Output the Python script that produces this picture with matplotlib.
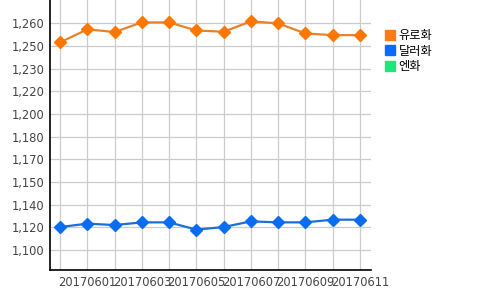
import numpy as np
import matplotlib
matplotlib.use("Agg")
import matplotlib.pyplot as plt
from matplotlib.lines import Line2D

plt.rcParams['font.family'] = ['DejaVu Sans', 'Noto Sans CJK KR']

dates = ["20170531", "20170601", "20170602", "20170603", "20170604", "20170605",
         "20170606", "20170607", "20170608", "20170609", "20170610", "20170611"]
eur = [1250.6, 1259.8, 1257.9, 1264.7, 1264.7, 1259.0,
       1258.1, 1265.4, 1264.0, 1256.9, 1255.7, 1255.7]
usd = [1120.3, 1122.7, 1121.7, 1123.6, 1123.6, 1118.5,
       1120.3, 1124.3, 1123.6, 1123.6, 1125.5, 1125.5]
jpy = []  # no values in view

series_names = ["유로화", "달러화", "엔화"]
y_ticks = [1104 + 16 * k for k in range(11)]
y_labels = ["{:,}".format(int(round(v, -1))) for v in y_ticks]

fig = plt.figure(figsize=(5, 2.9), dpi=100)
ax = fig.add_axes([0.1, 0.069, 0.641, 0.931])

x = np.arange(len(dates))
ax.plot(x, eur, color='#e8822a', lw=1.6, marker='D', ms=6.3,
        mfc='#ff7700', mec='#ff7700', zorder=3)
ax.plot(x, usd, color='#1a6fd8', lw=1.6, marker='D', ms=6.3,
        mfc='#0a6cf0', mec='#0a6cf0', zorder=3)

ax.set_xlim(-0.37, 11.39)
ax.set_ylim(1090, 1280.5)
ax.set_yticks(y_ticks)
ax.set_yticklabels(y_labels)
ax.set_xticks(x)
ax.set_xticklabels([d if i % 2 == 1 else "" for i, d in enumerate(dates)])
ax.tick_params(length=0, labelsize=8.3, labelcolor='#444444', pad=4)
ax.grid(True, color='#cccccc', lw=0.9)
ax.set_axisbelow(True)
for s in ['top', 'right']:
    ax.spines[s].set_visible(False)
for s in ['left', 'bottom']:
    ax.spines[s].set_color('black')
    ax.spines[s].set_linewidth(1.2)

colors = ['#ff7b1a', '#0a6cff', '#1ee67a']
handles = [Line2D([], [], ls='none', marker='s', ms=7.5, mfc=c, mec=c) for c in colors]
fig.legend(handles, series_names, loc='upper left', bbox_to_anchor=(0.758, 0.92),
           frameon=False, borderpad=0, handlelength=0.8, handletextpad=0.3,
           labelspacing=0.2,
           prop={'family': ['Noto Sans CJK KR', 'DejaVu Sans'], 'size': 8.8})

fig.savefig("out.png", dpi=100)
